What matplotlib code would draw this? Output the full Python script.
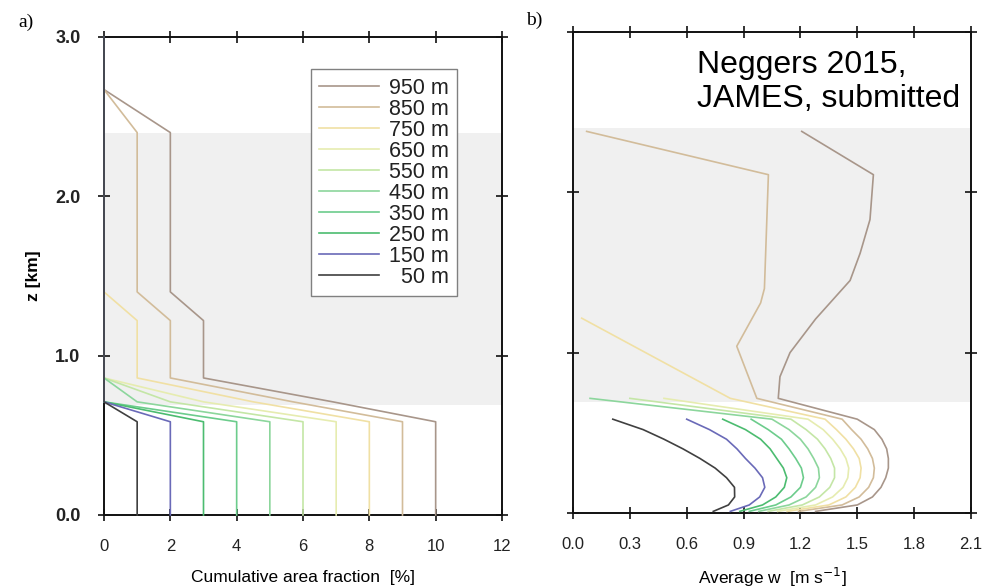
import matplotlib
matplotlib.use('Agg')
import matplotlib.pyplot as plt

# ---------------- data ----------------
size_labels = ['950 m', '850 m', '750 m', '650 m', '550 m', '450 m', '350 m', '250 m', '150 m', '  50 m']
line_colors = ['#a8968a', '#d2bc9a', '#f0e0a4', '#e6ecb0', '#c4e6a6', '#8cd69c', '#6ccc8c', '#4cbc70', '#6a6ab8', '#404040']

# panel a: cumulative area fraction [%] at heights za [km]
za = [0.0, 0.585, 0.71, 0.86, 1.22, 1.40, 2.40, 2.67, 3.0]
frac_950 = [10, 10, 6.9, 3, 3, 2, 2, 0, 0]
frac_850 = [9, 9, 5.7, 2, 2, 1, 1, 0, 0]
frac_750 = [8, 8, 4.5, 1, 1, 0, 0, 0, 0]
frac_650 = [7, 7, 3, 0, 0, 0, 0, 0, 0]
frac_550 = [6, 6, 2, 0, 0, 0, 0, 0, 0]
frac_450 = [5, 5, 1, 0, 0, 0, 0, 0, 0]
frac_350 = [4, 4, 0, 0, 0, 0, 0, 0, 0]
frac_250 = [3, 3, 0, 0, 0, 0, 0, 0, 0]
frac_150 = [2, 2, 0, 0, 0, 0, 0, 0, 0]
frac_50 = [1, 1, 0, 0, 0, 0, 0, 0, 0]

# panel b: average w [m/s] at heights [km]
zb_low = [0.01, 0.05, 0.10, 0.16, 0.22, 0.28, 0.34, 0.40, 0.46, 0.52, 0.585]
w_50 = [0.74, 0.82, 0.853, 0.852, 0.81, 0.75, 0.67, 0.58, 0.48, 0.37, 0.21]
w_150 = [0.83, 0.93, 0.985, 1.012, 1.00, 0.96, 0.91, 0.865, 0.81, 0.72, 0.60]
w_250 = [0.88, 1.00, 1.07, 1.115, 1.128, 1.11, 1.075, 1.04, 0.99, 0.91, 0.79]
w_350 = [0.93, 1.07, 1.15, 1.20, 1.216, 1.205, 1.175, 1.14, 1.10, 1.03, 0.94]
w_450 = [0.98, 1.14, 1.23, 1.28, 1.30, 1.295, 1.27, 1.24, 1.20, 1.14, 1.05]
w_550 = [1.03, 1.21, 1.30, 1.355, 1.38, 1.38, 1.36, 1.33, 1.29, 1.23, 1.15]
w_650 = [1.08, 1.28, 1.37, 1.425, 1.45, 1.455, 1.44, 1.41, 1.37, 1.32, 1.24]
w_750 = [1.13, 1.35, 1.44, 1.49, 1.515, 1.52, 1.51, 1.48, 1.44, 1.39, 1.33]
w_850 = [1.19, 1.42, 1.51, 1.56, 1.585, 1.59, 1.58, 1.555, 1.52, 1.47, 1.42]
w_950 = [1.28, 1.50, 1.58, 1.625, 1.65, 1.664, 1.664, 1.655, 1.63, 1.59, 1.50]

# upper extensions of the larger classes
zup_450, wup_450 = [0.715], [0.09]
zup_550, wup_550 = [0.715], [0.30]
zup_650, wup_650 = [0.715], [0.48]
zup_750, wup_750 = [0.715, 1.215], [0.83, 0.046]
zup_850, wup_850 = [0.715, 1.04, 1.31, 1.40, 2.11, 2.38], [0.97, 0.864, 0.99, 1.01, 1.031, 0.072]
zup_950, wup_950 = [0.715, 0.85, 1.0, 1.21, 1.45, 1.62, 1.83, 2.11, 2.38], \
                   [1.083, 1.092, 1.145, 1.28, 1.462, 1.515, 1.567, 1.585, 1.207]

narrow = ['Liberation Sans Narrow', 'Liberation Sans', 'DejaVu Sans']
sans = ['Liberation Sans', 'DejaVu Sans']

fig = plt.figure(figsize=(10, 5.87), dpi=100)
axa = fig.add_axes([0.104, 0.1227, 0.398, 0.8143])
axb = fig.add_axes([0.573, 0.1261, 0.398, 0.8194])

for ax in (axa, axb):
    ax.axhspan(0.69, 2.40, color='#f0f0f0', lw=0, zorder=0)
    ax.set_ylim(0, 3)
    for s in ax.spines.values():
        s.set_linewidth(1.4)
        s.set_color('#111111')
    ax.tick_params(direction='inout', length=8, width=1.2, top=True, right=True,
                   colors='#111111', labelcolor='#222222')

fracs = [frac_950, frac_850, frac_750, frac_650, frac_550, frac_450, frac_350, frac_250, frac_150, frac_50]
for f, c, lab in zip(fracs, line_colors, size_labels):
    axa.plot(f, za, color=c, lw=1.2, label=lab, zorder=3, clip_on=False)

lows = [w_950, w_850, w_750, w_650, w_550, w_450, w_350, w_250, w_150, w_50]
ups = [(zup_950, wup_950), (zup_850, wup_850), (zup_750, wup_750), (zup_650, wup_650),
       (zup_550, wup_550), (zup_450, wup_450), ([], []), ([], []), ([], []), ([], [])]
for wl, (zu, wu), c in zip(lows, ups, line_colors):
    axb.plot(wl + wu, zb_low + zu, color=c, lw=1.2, zorder=3)

# axes a
axa.set_xlim(0, 12)
axa.set_xticks([0, 2, 4, 6, 8, 10, 12])
axa.set_xticklabels(['0', '2', '4', '6', '8', '10', '12'], family=narrow, fontsize=12)
axa.set_yticks([0, 1, 2, 3])
axa.set_yticklabels(['0.0', '1.0', '2.0', '3.0'], family=sans, fontsize=13, fontweight='bold')
axa.tick_params(axis='y', pad=13)
axa.tick_params(axis='x', pad=13)
axa.set_xlabel('Cumulative area fraction  [%]', family=narrow, fontsize=12.5, labelpad=12)
axa.set_ylabel('z [km]', family=sans, fontsize=12.5, fontweight='bold', labelpad=10)

leg = axa.legend(loc='upper right', bbox_to_anchor=(0.887, 0.933), borderaxespad=0,
                 prop={'family': sans, 'size': 15.5}, handlelength=2.8, handletextpad=0.42,
                 labelspacing=0.0, borderpad=0.4, fancybox=False, framealpha=1,
                 edgecolor='#808080')
leg.get_frame().set_linewidth(1.0)
for t in leg.get_texts():
    t.set_color('#222222')

# axes b
axb.set_xlim(0, 2.1)
axb.set_xticks([0.0, 0.3, 0.6, 0.9, 1.2, 1.5, 1.8, 2.1])
axb.set_xticklabels(['0.0', '0.3', '0.6', '0.9', '1.2', '1.5', '1.8', '2.1'], family=narrow, fontsize=12)
axb.set_yticks([0, 1, 2, 3])
axb.set_yticklabels([])
axb.tick_params(axis='x', pad=13)
axb.set_xlabel('Average w  [m s$^{-1}$]', family=narrow, fontsize=12.5, labelpad=10)

fig.text(0.018, 1 - 14 / 587, 'a)', family=['Liberation Serif', 'DejaVu Serif'], fontsize=14, va='top')
fig.text(0.526, 1 - 12 / 587, 'b)', family=['Liberation Serif', 'DejaVu Serif'], fontsize=14, va='top')
fig.text(0.697, 1 - 50 / 587, 'Neggers 2015,\nJAMES, submitted', family=sans, fontsize=23,
         va='top', ha='left', linespacing=1.16)

fig.savefig('out.png', dpi=100, facecolor='white')
